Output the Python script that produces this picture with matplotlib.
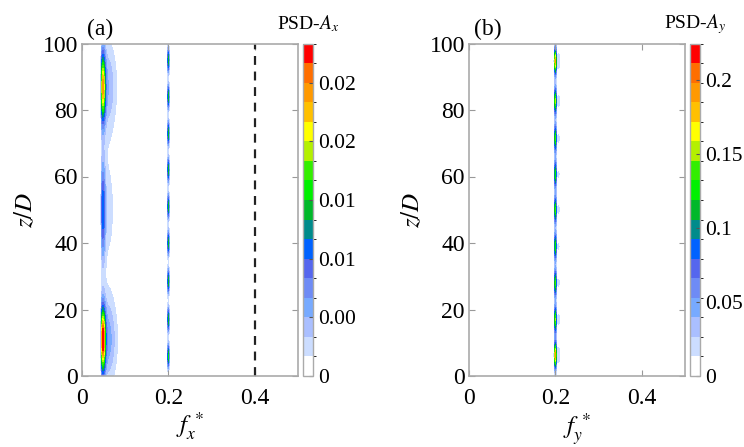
import numpy as np
import matplotlib
matplotlib.use("Agg")
import matplotlib.pyplot as plt
from matplotlib.colors import ListedColormap, BoundaryNorm

plt.rcParams["font.family"] = ["Liberation Serif", "DejaVu Serif"]
plt.rcParams["mathtext.fontset"] = "stix"

# --- DATA ---
# 17-step contour palette, low -> high
palette = ["#FFFFFF", "#CCDDFF", "#AABFFF", "#77AAFF", "#6E8BF5", "#5566EE",
           "#0062FF", "#008B8B", "#00B82A", "#00F000", "#33EE00", "#B4F000",
           "#FFFF00", "#FFC000", "#FF9900", "#FF6E00", "#FF0000"]

# panel (a): low-frequency band at f*~0.048 (z centre, z width, peak)
band_a_f = 0.048
band_a_z = [11.0, 50.0, 87.0]
band_a_sz = [6.5, 10.0, 7.0]
band_a_amp = [0.0228, 0.0088, 0.0185]

# lens segments along f* = 0.2 (z centre, peak)
seg_a_z = [6.0, 17.0, 28.5, 40.0, 51.0, 62.0, 73.0, 84.0, 95.0]
seg_a_amp = [0.0140, 0.0135, 0.0135, 0.0135, 0.0135, 0.0135, 0.0135, 0.0135, 0.0135]

seg_b_z = [6.3, 17.0, 28.0, 39.0, 50.0, 60.7, 71.5, 82.7, 94.7]
seg_b_amp = [0.190, 0.145, 0.135, 0.130, 0.135, 0.130, 0.135, 0.150, 0.185]

vmax_a = 0.0255
vmax_b = 0.225
cb_ticks_a = [0.0, 0.0045, 0.009, 0.0135, 0.018, 0.0225]
cb_labels_a = ["0", "0.00", "0.01", "0.01", "0.02", "0.02"]
cb_ticks_b = [0.0, 0.05, 0.1, 0.15, 0.2]
cb_labels_b = ["0", "0.05", "0.1", "0.15", "0.2"]

f = np.linspace(0, 0.5, 1201)
z = np.linspace(0, 100, 501)
F, Z = np.meshgrid(f, z)


def lens(fc, zc, amp, sf, sz):
    return amp * np.exp(-0.5 * ((F - fc) / sf) ** 2 - 0.5 * ((Z - zc) / sz) ** 2)


# field (a)
field_a = np.zeros_like(F)
for zc, sz, amp in zip(band_a_z, band_a_sz, band_a_amp):
    prof = np.exp(-0.5 * ((Z - zc) / sz) ** 2)
    sf = np.where(F < band_a_f, 0.0022, 0.0040)
    core = np.exp(-0.5 * ((F - band_a_f) / sf) ** 2)
    halo = np.where(F > band_a_f - 0.002,
                    np.exp(-0.5 * ((F - 0.058) / 0.015) ** 2), 0.0)
    wide = np.exp(-0.5 * ((Z - zc) / (sz * 1.35)) ** 2)
    field_a += amp * (core * prof + 0.24 * halo * wide)
for zc, amp in zip(seg_a_z, seg_a_amp):
    field_a += lens(0.2, zc, amp, 0.0011, 2.5)

# field (b)
field_b = np.zeros_like(F)
for zc, amp in zip(seg_b_z, seg_b_amp):
    field_b += lens(0.2, zc, amp, 0.0014, 2.8)
    field_b += lens(0.207, zc, amp * 0.11, 0.0035, 2.4)

fig = plt.figure(figsize=(7.44, 4.47), dpi=100)
W, H = 744.0, 447.0

panels = [
    (field_a, vmax_a, cb_ticks_a, cb_labels_a, (82, 298, 303, 313), "(a)",
     r"$f_x^{\,*}$", r"PSD-$A_x$"),
    (field_b, vmax_b, cb_ticks_b, cb_labels_b, (469, 685, 690, 700), "(b)",
     r"$f_y^{\,*}$", r"PSD-$A_y$"),
]

top, bot = 43.5, 376.0
for data, vmax, cticks, clabels, (x0, x1, c0, c1), tag, xlab, ctitle in panels:
    ax = fig.add_axes([x0 / W, 1 - bot / H, (x1 - x0) / W, (bot - top) / H])
    cax = fig.add_axes([c0 / W, 1 - bot / H, (c1 - c0) / W, (bot - top) / H])

    levels = np.linspace(0, vmax, 18)
    cmap = ListedColormap(palette)
    norm = BoundaryNorm(levels, cmap.N)
    cs = ax.contourf(F, Z, np.clip(data, 0, vmax * 0.999), levels=levels,
                     cmap=cmap, norm=norm)

    ax.set_xlim(0, 0.5)
    ax.set_ylim(0, 100)
    ax.set_xticks([0, 0.2, 0.4])
    ax.set_xticklabels(["0", "0.2", "0.4"])
    ax.set_yticks([0, 20, 40, 60, 80, 100])
    ax.tick_params(direction="in", length=4, color="#999999", top=True,
                   right=True, labelsize=17)
    ax.tick_params(axis="x", pad=9)
    ax.tick_params(axis="y", pad=3)
    for sp in ax.spines.values():
        sp.set_color("#AAAAAA")
        sp.set_linewidth(1.2)
    ax.set_ylabel(r"$z/D$", fontsize=18, labelpad=4)
    ax.set_xlabel(xlab, fontsize=18, labelpad=1)
    ax.text(0.025, 1.01, tag, transform=ax.transAxes, fontsize=17,
            ha="left", va="bottom")

    cb = fig.colorbar(cs, cax=cax, ticks=cticks)
    cb.ax.set_yticklabels(clabels)
    cb.ax.tick_params(direction="in", length=3, color="#555555",
                      labelsize=15.5, pad=4)
    cb.outline.set_edgecolor("#AAAAAA")
    cb.outline.set_linewidth(1.0)
    cax.text(0.5 * (c0 + c1) / W, 1 - 24 / H, ctitle,
             transform=fig.transFigure, fontsize=14, ha="center", va="center")

    if tag == "(a)":
        ax.axvline(0.4, color="#222222", linestyle=(0, (4, 3)), linewidth=1.6)

fig.savefig("out.png", dpi=100)
